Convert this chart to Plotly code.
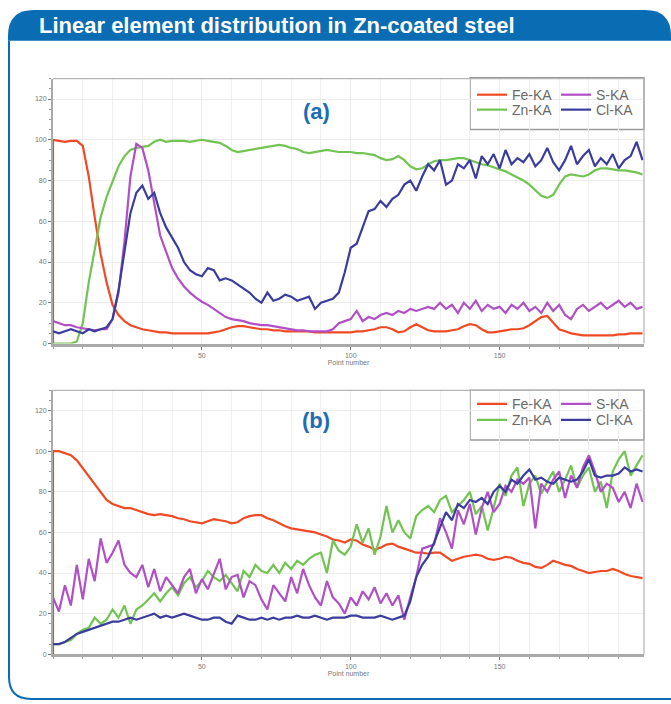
import plotly.graph_objects as go

# ---------------- data ----------------
point_number = list(range(0, 200, 2))

fe_a = [100, 99.5, 99, 99.5, 99.5, 97, 82, 62, 44, 30, 19, 14, 11, 9, 8, 7, 6.5, 6, 5.5, 5.5,
        5, 5, 5, 5, 5, 5, 5, 5.5, 6, 7, 8, 8.5, 8.5, 8, 7.5, 7, 7, 6.5, 6.5, 6,
        6, 6, 6, 6, 5.5, 5.5, 5.5, 5.5, 5.5, 5.5, 5.5, 6, 6, 6.5, 7, 8, 8, 7, 5.5, 6,
        8, 9.5, 8, 6.5, 6, 6, 6, 6.5, 7, 8.5, 9.5, 9, 7, 5.5, 5.5, 6, 6.5, 7, 7, 7.5,
        9, 11, 13, 13.5, 10, 7, 6, 5, 4.5, 4, 4, 4, 4, 4, 4, 4.5, 4.5, 5, 5, 5]
zn_a = [0, 0, 0, 0, 1, 10, 30, 47, 62, 72, 80, 87, 92, 95, 96, 96.5, 97, 99, 100, 99,
        99.5, 99.5, 99.5, 99, 99.5, 100, 99.5, 99, 98.5, 97, 95, 94, 94.5, 95, 95.5, 96, 96.5, 97, 97.5, 97,
        96, 95.5, 94, 93.5, 94, 94.5, 95, 94.5, 94, 94, 94, 93.5, 93.5, 93, 92.5, 91, 90, 90.5, 92, 90,
        87, 85.5, 86, 88, 89.5, 90, 90, 90.5, 91, 91, 90, 89, 88, 87.5, 86.5, 85.5, 84.5, 83, 81.5, 80,
        78, 75, 72.5, 71.5, 73, 78, 82, 83, 82.5, 82, 83, 85, 86, 86, 85.5, 85, 85, 84.5, 84, 83]
s_a = [11, 10, 9, 9, 8, 7.5, 7, 6.5, 7, 7, 12, 25, 50, 82, 98, 96, 85, 68, 53, 45,
       37, 32, 28, 25, 22.5, 20.5, 19, 17, 15, 13, 12, 11.5, 11, 10, 9.5, 9, 9, 8.5, 8, 7.5,
       7, 6.5, 6.5, 6, 6, 6, 6, 7, 10, 11, 12, 16, 11, 13, 12, 14, 15, 14, 16, 15,
       17, 16, 17, 18, 17, 20, 17, 19, 15, 20, 17, 21, 16, 19, 17, 18, 15, 19, 17, 20,
       16, 18, 15, 20, 16, 19, 14, 12, 17, 19, 16, 18, 20, 17, 19, 21, 18, 20, 17, 18]
cl_a = [6, 5, 6, 7, 6, 5, 7, 6, 7, 8, 12, 26, 45, 64, 74, 77.5, 71, 74, 64, 57,
        52, 47, 40, 36, 34, 33, 37, 36, 31, 32, 31, 29, 27, 25, 22, 20, 25, 21, 22, 24,
        23, 21, 22, 23, 17, 20, 21, 22, 25, 35, 47, 49, 57, 65, 66, 70, 67, 71, 73, 78,
        80, 75, 82, 88, 85, 90, 78, 80, 88, 86, 90, 81, 92, 88, 93, 86, 95, 88, 91, 89,
        93, 87, 90, 96, 89, 85, 90, 97, 88, 92, 95, 87, 91, 88, 93, 86, 90, 92, 99, 90]

fe_b = [100, 100, 99, 98, 95.5, 91.5, 88, 84, 80, 76, 74, 73, 72, 72, 71, 70, 69, 68.5, 69, 68.5,
        68, 67, 66.5, 65.5, 65, 64.5, 65.5, 66.5, 66, 65.5, 64.5, 65, 67, 68, 68.5, 68.5, 67, 66, 64.5, 63,
        62, 61.5, 61, 60.5, 60, 59, 58, 56.5, 56, 55, 56.5, 56, 54, 53, 51.5, 52.5, 54, 54.5, 53, 52,
        51, 50, 50, 49.5, 50, 50, 48, 46, 47, 48, 48.5, 49, 48.5, 47, 46.5, 47, 48, 47.5, 46, 45,
        44.5, 43, 42.5, 44, 46, 45, 44, 43.5, 42, 41, 40, 40.5, 41, 41, 42, 41, 39.5, 38.5, 38, 37.5]
zn_b = [5, 5, 6, 7, 10, 12, 13, 18, 15, 17, 22, 18, 24, 15, 22, 24, 27, 30, 26, 30,
        33, 29, 35, 38, 33, 36, 41, 38, 36, 39, 35, 31, 41, 38, 44, 41, 40, 44, 40, 45,
        42, 46, 44, 47, 49, 50, 40, 56, 51, 49, 53, 64, 55, 62, 49, 58, 73, 60, 66, 60,
        57, 68, 71, 73, 70, 76, 78, 70, 73, 76, 80, 69, 73, 61, 72, 84, 78, 88, 92, 73,
        84, 88, 79, 85, 90, 80, 86, 93, 82, 88, 92, 80, 85, 72, 90, 96, 100, 88, 93, 98]
s_b = [28, 21, 34, 24, 44, 27, 47, 36, 57, 45, 50, 56, 44, 40, 38, 44, 33, 42, 31, 38,
       34, 30, 38, 42, 30, 37, 32, 40, 47, 32, 38, 39, 28, 36, 34, 27, 22, 34, 30, 26,
       38, 30, 42, 34, 28, 24, 36, 28, 25, 20, 28, 24, 31, 27, 33, 25, 30, 24, 29, 17,
       28, 38, 52, 53, 54, 67, 60, 52, 71, 64, 74, 59, 72, 80, 70, 74, 83, 80, 86, 84,
       87, 62, 84, 80, 86, 90, 77, 88, 82, 92, 98, 90, 80, 84, 82, 75, 80, 72, 84, 75]
cl_b = [5, 5, 6, 8, 10, 11, 12, 13, 14, 15, 16, 16, 17, 18, 17, 18, 19, 20, 18, 19,
        18, 19, 20, 19, 18, 17, 17, 18, 18, 16, 15, 19, 18, 17, 17, 18, 17, 18, 17, 18,
        18, 19, 18, 18, 19, 18, 17, 18, 18, 18, 19, 19, 18, 18, 18, 19, 18, 17, 18, 19,
        26, 38, 44, 48, 55, 63, 70, 66, 74, 72, 76, 75, 77, 74, 80, 83, 80, 86, 84, 88,
        91, 86, 87, 85, 84, 87, 86, 85, 86, 90, 96, 88, 87, 88, 88, 89, 92, 90, 91, 90]

series_names = ["Fe-KA", "Zn-KA", "S-KA", "Cl-KA"]
y_tick_values = [0, 20, 40, 60, 80, 100, 120]
x_tick_values = [50, 100, 150]
title_text = "Linear element distribution in Zn-coated steel"
x_title = "Point number"

# ---------------- styling ----------------
W, H = 671, 704
BLUE = "#0a6cb2"
COLORS = {"Fe-KA": "#ef4a24", "Zn-KA": "#72c452", "S-KA": "#b04fc6", "Cl-KA": "#3b3d9e"}


def fx(p):
    return p / W


def fy(p):
    return 1 - p / H


fig = go.Figure()

# legend slot per (panel, series): (column x, row y) in pixels
legend_rows = {"a": (95.5, 110.5), "b": (406, 422)}
col_x = {"Fe-KA": 472, "Zn-KA": 472, "S-KA": 556, "Cl-KA": 556}
row_idx = {"Fe-KA": 0, "S-KA": 0, "Zn-KA": 1, "Cl-KA": 1}

panels = [
    ("a", "x", "y", {"Fe-KA": fe_a, "Zn-KA": zn_a, "S-KA": s_a, "Cl-KA": cl_a}),
    ("b", "x2", "y2", {"Fe-KA": fe_b, "Zn-KA": zn_b, "S-KA": s_b, "Cl-KA": cl_b}),
]
legend_layout = {}
legend_style = dict(
    bgcolor="rgba(0,0,0,0)", borderwidth=0, orientation="v",
    font=dict(size=14, color="#6a6a6a", family="Liberation Sans"),
    xanchor="left", yanchor="middle", itemclick=False, itemdoubleclick=False,
)
n = 0
for key, xa, ya, data in panels:
    for name in series_names:
        n += 1
        lg = "legend" if n == 1 else f"legend{n}"
        vals = data[name]
        xs = point_number[:len(vals)]
        if name == "Fe-KA":
            xs = [0] + xs
            vals = [0] + vals
        fig.add_trace(go.Scatter(
            x=xs, y=vals, mode="lines", name=name,
            line=dict(color=COLORS[name], width=2.2),
            xaxis=xa, yaxis=ya, legend=lg, hoverinfo="skip",
        ))
        legend_layout[lg] = dict(legend_style, x=fx(col_x[name]),
                                 y=fy(legend_rows[key][row_idx[name]]))

x_dom = [fx(53), fx(644)]
dom_a = [fy(345), fy(79)]
dom_b = [fy(657), fy(392)]

axis_common = dict(
    showline=True, linecolor="#a9a9a9", linewidth=2, mirror=False,
    showgrid=True, gridcolor="#ececec", gridwidth=1,
    ticks="outside", ticklen=3, tickcolor="#777",
    tickfont=dict(size=7, color="#777", family="Liberation Sans"),
    zeroline=False, layer="below traces",
)
for suffix, dom, anchor in (("", dom_a, ""), ("2", dom_b, "2")):
    fig.update_layout(**{
        "xaxis" + suffix: dict(
            axis_common, domain=x_dom, range=[0, 198.5], anchor="y" + anchor,
            tickvals=x_tick_values, linewidth=3,
            minor=dict(dtick=10, tick0=0, showgrid=True, gridcolor="#efefef", ticks="outside", ticklen=2, tickcolor="#999"),
            title=dict(text=x_title, font=dict(size=7, color="#777", family="Liberation Sans"), standoff=2),
        ),
        "yaxis" + suffix: dict(
            axis_common, domain=dom, range=[0, 130], anchor="x" + anchor,
            tickvals=y_tick_values,
            minor=dict(dtick=5, tick0=0, ticks="outside", ticklen=2, tickcolor="#999", showgrid=False),
        ),
    })

fig.update_layout(**legend_layout)

shapes = []
# light top / right frame of each plot area
for dom in (dom_a, dom_b):
    shapes.append(dict(type="path", xref="paper", yref="paper",
                       path=f"M {x_dom[0]},{dom[1]} L {x_dom[1]},{dom[1]} L {x_dom[1]},{dom[0]}",
                       line=dict(color="#b5b5b5", width=1.2)))
# legend boxes
for top, bottom in ((78, 130), (392, 442)):
    shapes.append(dict(type="rect", xref="paper", yref="paper",
                       x0=fx(470), x1=fx(644), y0=fy(top), y1=fy(bottom),
                       line=dict(color="#9a9a9a", width=1.5), fillcolor="white", layer="below"))

# header bar with rounded top corners
r = 26
L, R, T, B = 8, 671, 10, 41
path = (f"M {fx(L)},{fy(B)} L {fx(L)},{fy(T + r)} "
        f"Q {fx(L)},{fy(T)} {fx(L + r)},{fy(T)} "
        f"L {fx(R - r)},{fy(T)} Q {fx(R)},{fy(T)} {fx(R)},{fy(T + r)} "
        f"L {fx(R)},{fy(B)} Z")
shapes.append(dict(type="path", xref="paper", yref="paper", path=path,
                   fillcolor=BLUE, line=dict(width=0)))
# left + bottom frame with rounded bottom-left corner
rb = 22
fpath = (f"M {fx(9)},{fy(B)} L {fx(9)},{fy(702 - rb)} "
         f"Q {fx(9)},{fy(702)} {fx(9 + rb)},{fy(702)} L {fx(671)},{fy(702)}")
shapes.append(dict(type="path", xref="paper", yref="paper", path=fpath,
                   line=dict(color=BLUE, width=2)))

annotations = [
    dict(text=f"<b>{title_text}</b>", xref="paper", yref="paper", x=fx(37), y=fy(25.5),
         xanchor="left", yanchor="middle", showarrow=False,
         font=dict(size=22, color="white", family="Liberation Sans")),
    dict(text="<b>(a)</b>", xref="paper", yref="paper", x=fx(316), y=fy(112),
         xanchor="center", yanchor="middle", showarrow=False,
         font=dict(size=22, color="#1d6db4", family="Liberation Sans")),
    dict(text="<b>(b)</b>", xref="paper", yref="paper", x=fx(316), y=fy(422),
         xanchor="center", yanchor="middle", showarrow=False,
         font=dict(size=22, color="#1d6db4", family="Liberation Sans")),
]

fig.update_layout(
    width=W, height=H,
    margin=dict(l=0, r=0, t=0, b=0),
    paper_bgcolor="white", plot_bgcolor="white",
    shapes=shapes, annotations=annotations,
    showlegend=True, hovermode=False,
)

fig.write_html("out.html", config={"displayModeBar": False, "staticPlot": False},
               post_script="document.body.style.margin='0px';")
